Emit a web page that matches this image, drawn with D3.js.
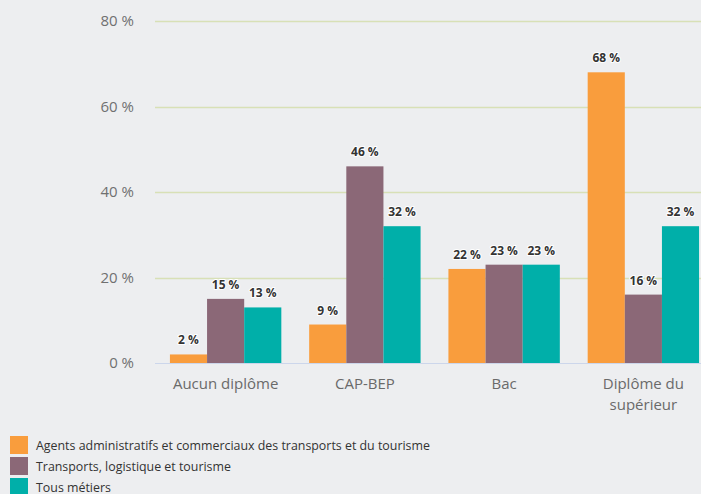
<!DOCTYPE html>
<html>
<head>
<meta charset="utf-8">
<script src="https://cdn.jsdelivr.net/npm/d3@7"></script>
<style>
  body { margin: 0; background: #edeef0; }
  svg { display: block; font-family: "Open Sans", sans-serif; }
</style>
</head>
<body>
<div id="chart"></div>
<script>
const categories = ['Aucun diplôme', 'CAP-BEP', 'Bac', 'Diplôme du supérieur'];
const seriesNames = [
    'Agents administratifs et commerciaux des transports et du tourisme',
    'Transports, logistique et tourisme',
    'Tous métiers'
];
const agents = [2, 9, 22, 68];
const transports = [15, 46, 23, 16];
const tous = [13, 32, 23, 32];
const yTicks = [0, 20, 40, 60, 80];
const colors = ['#f99d3d', '#8b6877', '#00afa9'];

const width = 701, height = 494;
const allSeries = [agents, transports, tous];

const svg = d3.select('#chart').append('svg')
    .attr('width', width)
    .attr('height', height);

svg.append('rect').attr('width', width).attr('height', height).attr('fill', '#edeef0');

const y = d3.scaleLinear().domain([0, 80]).range([363, 21]);

const x0 = d3.scaleBand()
    .domain(categories)
    .range([156, 713])
    .paddingInner(0.2)
    .paddingOuter(0.1);

const x1 = d3.scaleBand()
    .domain(d3.range(seriesNames.length))
    .range([0, x0.bandwidth()]);

// grid
svg.append('g').selectAll('line')
    .data(yTicks.filter(d => d > 0))
    .enter().append('line')
    .attr('x1', 155).attr('x2', width)
    .attr('y1', d => Math.round(y(d)) + 0.5)
    .attr('y2', d => Math.round(y(d)) + 0.5)
    .attr('stroke', '#d8e0b6')
    .attr('stroke-width', 1.5);

// y labels
svg.append('g').selectAll('text')
    .data(yTicks)
    .enter().append('text')
    .attr('x', 134)
    .attr('y', d => y(d))
    .attr('dy', '0.36em')
    .attr('text-anchor', 'end')
    .attr('fill', '#707070')
    .attr('font-size', 15)
    .text(d => d + ' %');

// bars
const groups = svg.append('g').selectAll('g')
    .data(categories)
    .enter().append('g')
    .attr('transform', d => `translate(${x0(d)},0)`);

groups.selectAll('rect')
    .data((c, i) => allSeries.map((s, k) => ({ k: k, v: s[i] })))
    .enter().append('rect')
    .attr('x', d => x1(d.k))
    .attr('y', d => y(d.v))
    .attr('width', x1.bandwidth())
    .attr('height', d => y(0) - y(d.v))
    .attr('fill', d => colors[d.k]);

groups.selectAll('text.lbl')
    .data((c, i) => allSeries.map((s, k) => ({ k: k, v: s[i] })))
    .enter().append('text')
    .attr('class', 'lbl')
    .attr('x', d => x1(d.k) + x1.bandwidth() / 2)
    .attr('y', d => y(d.v) - 10)
    .attr('text-anchor', 'middle')
    .attr('font-size', 12)
    .attr('font-weight', 'bold')
    .attr('fill', '#333')
    .attr('stroke', '#fff')
    .attr('stroke-width', 2)
    .attr('stroke-linejoin', 'round')
    .attr('paint-order', 'stroke')
    .text(d => d.v + ' %');

// baseline
svg.append('line')
    .attr('x1', 155).attr('x2', width)
    .attr('y1', Math.round(y(0)) + 0.5).attr('y2', Math.round(y(0)) + 0.5)
    .attr('stroke', '#ccd6eb');

// category labels
const catLabels = svg.append('g').selectAll('text')
    .data(categories)
    .enter().append('text')
    .attr('x', d => x0(d) + x0.bandwidth() / 2)
    .attr('y', 389)
    .attr('text-anchor', 'middle')
    .attr('fill', '#6a6a6a')
    .attr('font-size', 15);

catLabels.each(function(d) {
    const t = d3.select(this);
    const lines = d === 'Diplôme du supérieur' ? ['Diplôme du', 'supérieur'] : [d];
    lines.forEach((l, i) => {
        t.append('tspan')
            .attr('x', x0(d) + x0.bandwidth() / 2)
            .attr('dy', i === 0 ? 0 : 21)
            .text(l);
    });
});

// legend
const legend = svg.append('g').selectAll('g')
    .data(seriesNames)
    .enter().append('g')
    .attr('transform', (d, i) => `translate(10,${436 + i * 21})`);

legend.append('rect')
    .attr('width', 18).attr('height', 18)
    .attr('fill', (d, i) => colors[i]);

legend.append('text')
    .attr('x', 26)
    .attr('y', 14)
    .attr('font-size', 12.4)
    .attr('fill', '#333')
    .text(d => d);
</script>
</body>
</html>
